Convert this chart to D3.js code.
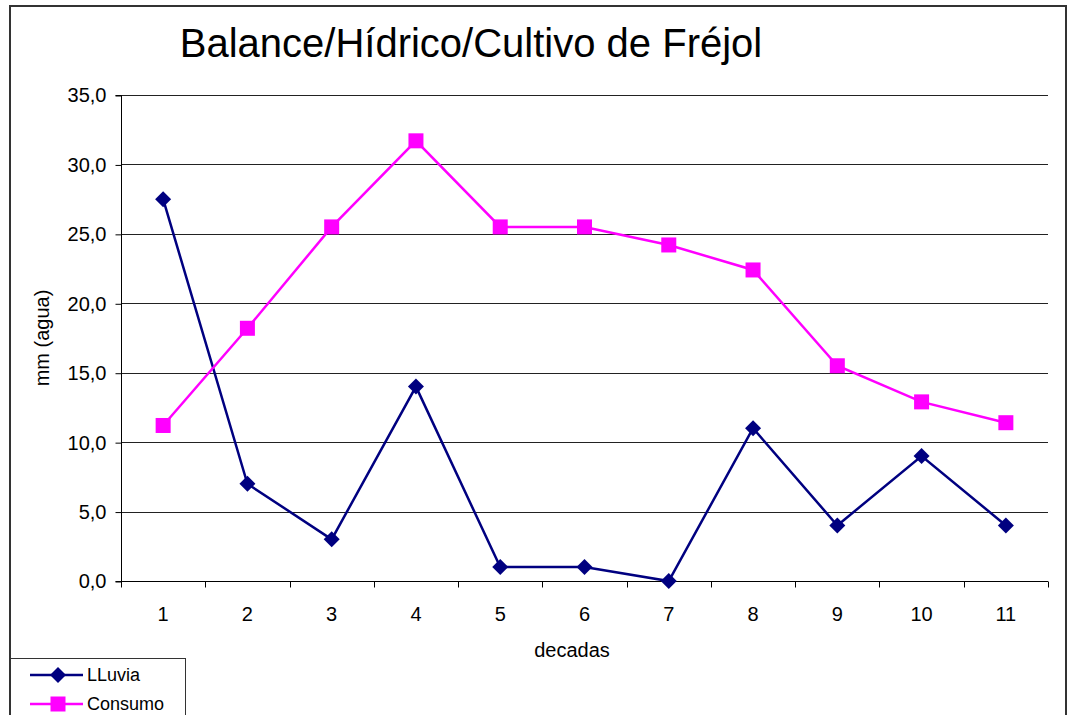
<!DOCTYPE html>
<html>
<head>
<meta charset="utf-8">
<script src="https://cdn.jsdelivr.net/npm/d3@7"></script>
<style>
html,body{margin:0;padding:0;background:#fff;}
svg{display:block;font-family:"Liberation Sans",Arial,sans-serif;}
</style>
</head>
<body>
<svg id="chart" width="1070" height="715"></svg>
<script>
const categories = ["1","2","3","4","5","6","7","8","9","10","11"];
const lluvia = [27.5, 7, 3, 14, 1, 1, 0, 11, 4, 9, 4];
const consumo = [11.2, 18.2, 25.5, 31.7, 25.5, 25.5, 24.2, 22.4, 15.5, 12.9, 11.4];
const yTicks = [0, 5, 10, 15, 20, 25, 30, 35];
const seriesNames = ["LLuvia", "Consumo"];

const svg = d3.select("#chart");
const L = 121, R = 1048, T = 95, B = 581;
const FONT = "Liberation Sans, Arial, sans-serif";

// outer border
svg.append("rect").attr("x", 10).attr("y", 6).attr("width", 1056).attr("height", 720)
  .attr("fill", "#fff").attr("stroke", "#333").attr("stroke-width", 2);

const x = d3.scaleBand().domain(categories).range([L, R]);
const y = d3.scaleLinear().domain([0, 35]).range([B, T]);

// gridlines
svg.append("g").selectAll("line").data(yTicks.filter(d => d > 0)).join("line")
  .attr("x1", L).attr("x2", R)
  .attr("y1", d => Math.round(y(d)) + 0.5).attr("y2", d => Math.round(y(d)) + 0.5)
  .attr("stroke", "#222").attr("stroke-width", 1);

// y axis
const yAxis = d3.axisLeft(y).tickValues(yTicks).tickSize(6).tickPadding(9)
  .tickFormat(d => d3.format(".1f")(d).replace(".", ","));
const gy = svg.append("g").attr("transform", `translate(${L + 0.5},0.5)`).call(yAxis)
  .attr("font-size", 20).attr("font-family", FONT);
gy.select(".domain").attr("stroke", "#000").attr("d", `M-6,${B}H0V${T}H-6`);
gy.selectAll(".tick line").attr("stroke", "#000");
gy.selectAll(".tick text").attr("fill", "#000");

// x axis
const gx = svg.append("g").attr("transform", `translate(0,${B + 0.5})`);
gx.append("line").attr("x1", L).attr("x2", R).attr("y1", 0).attr("y2", 0).attr("stroke", "#000");
const bounds = d3.range(categories.length + 1).map(i => L + i * x.step());
gx.selectAll("line.tk").data(bounds).join("line").attr("class", "tk")
  .attr("x1", d => Math.round(d) + 0.5).attr("x2", d => Math.round(d) + 0.5)
  .attr("y1", 0).attr("y2", 6).attr("stroke", "#000");
gx.selectAll("text").data(categories).join("text")
  .attr("x", d => x(d) + x.bandwidth() / 2).attr("y", 39)
  .attr("text-anchor", "middle").attr("font-size", 20).text(d => d);

// axis titles
svg.append("text").attr("x", 572).attr("y", 657).attr("text-anchor", "middle")
  .attr("font-size", 20).text("decadas");
svg.append("text").attr("transform", "translate(49,338) rotate(-90)").attr("text-anchor", "middle")
  .attr("font-size", 20).text("mm (agua)");

// title
svg.append("text").attr("x", 471).attr("y", 57).attr("text-anchor", "middle")
  .attr("font-size", 40).text("Balance/Hídrico/Cultivo de Fréjol");

const cx = (d, i) => x(categories[i]) + x.bandwidth() / 2;
const line = d3.line().x((d, i) => cx(d, i)).y(d => y(d));

function diamond(s) {
  return `M0,${-s}L${s},0L0,${s}L${-s},0Z`;
}
svg.append("path").datum(lluvia).attr("d", line).attr("fill", "none")
  .attr("stroke", "#000080").attr("stroke-width", 2.5);
svg.append("path").datum(consumo).attr("d", line).attr("fill", "none")
  .attr("stroke", "#FF00FF").attr("stroke-width", 2.5);

svg.append("g").selectAll("path").data(lluvia).join("path")
  .attr("transform", (d, i) => `translate(${cx(d, i)},${y(d)})`)
  .attr("d", diamond(8)).attr("fill", "#000080");
svg.append("g").selectAll("rect").data(consumo).join("rect")
  .attr("x", (d, i) => cx(d, i) - 7.5).attr("y", d => y(d) - 7.5)
  .attr("width", 15).attr("height", 15).attr("fill", "#FF00FF");

// legend
const lg = svg.append("g");
lg.append("rect").attr("x", 10.5).attr("y", 658.5).attr("width", 175).attr("height", 70)
  .attr("fill", "#fff").attr("stroke", "#333").attr("stroke-width", 1);
const colors = ["#000080", "#FF00FF"];
seriesNames.forEach((n, i) => {
  const yy = 675 + i * 29;
  lg.append("line").attr("x1", 30).attr("x2", 83).attr("y1", yy).attr("y2", yy)
    .attr("stroke", colors[i]).attr("stroke-width", 2.5);
  if (i === 0) {
    lg.append("path").attr("transform", `translate(58,${yy})`).attr("d", diamond(8)).attr("fill", colors[i]);
  } else {
    lg.append("rect").attr("x", 50.5).attr("y", yy - 7.5).attr("width", 15).attr("height", 15).attr("fill", colors[i]);
  }
  lg.append("text").attr("x", 87).attr("y", yy + 6).attr("font-size", 18).text(n);
});
</script>
</body>
</html>
